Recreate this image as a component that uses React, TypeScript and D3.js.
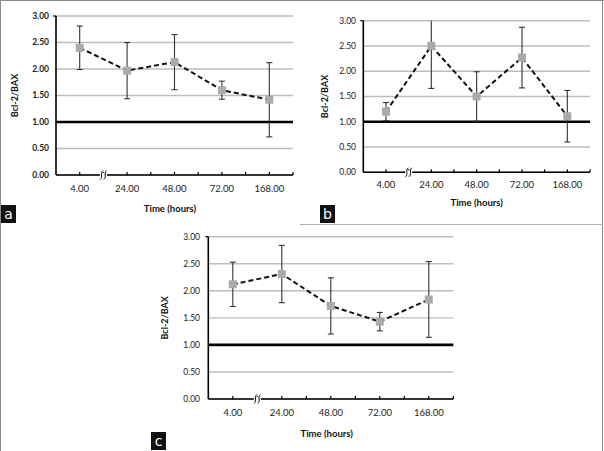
import React from "react";
import * as d3 from "d3";

const categories = ["4.00", "24.00", "48.00", "72.00", "168.00"];
const yTicks = [0, 0.5, 1, 1.5, 2, 2.5, 3];

const meanA = [2.4, 1.97, 2.13, 1.6, 1.42];
const errA = [0.41, 0.53, 0.52, 0.17, 0.7];
const meanB = [1.2, 2.5, 1.5, 2.27, 1.11];
const errB = [0.18, 0.84, 0.49, 0.6, 0.51];
const meanC = [2.12, 2.31, 1.72, 1.43, 1.84];
const errC = [0.41, 0.53, 0.52, 0.17, 0.7];

const FONT = "Lato, 'Open Sans', sans-serif";

type PanelProps = {
  label: string;
  means: number[];
  errs: number[];
  x0: number;
  x1: number;
  yTop: number;
  yBottom: number;
  tickLabelY: number;
  titleX: number;
  titleY: number;
  yLabelX: number;
  yTickRight: number;
  boldTicks?: boolean;
  box: { x: number; y: number };
};

function Panel(p: PanelProps) {
  const x = d3.scaleBand<string>().domain(categories).range([p.x0, p.x1]).padding(0);
  const y = d3.scaleLinear().domain([0, 3]).range([p.yBottom, p.yTop]);
  const bw = x.bandwidth();
  const cx = (c: string) => (x(c) as number) + bw / 2;
  const line = d3
    .line<number>()
    .x((_, i) => cx(categories[i]))
    .y((d) => y(d));
  const tickXs: number[] = [];
  categories.forEach((c) => {
    tickXs.push(cx(c));
    tickXs.push((x(c) as number) + bw);
  });
  const breakX = (x(categories[0]) as number) + bw;
  const yb = y(0);
  const wave = (ox: number) =>
    `M${ox - 1.5},${yb + 4.5} C${ox + 2},${yb + 2} ${ox - 2},${yb - 2} ${ox + 1.5},${yb - 4.5}`;
  return (
    <g>
      {yTicks.map((t) => (
        <line key={"g" + t} x1={p.x0} x2={p.x1} y1={y(t)} y2={y(t)} stroke="#bdbdbd" strokeWidth={1.4} />
      ))}
      <line x1={p.x0} x2={p.x1} y1={y(1)} y2={y(1)} stroke="#000" strokeWidth={2.6} />
      <line x1={p.x0} x2={p.x0} y1={y(3)} y2={y(0)} stroke="#000" strokeWidth={1.6} />
      <line x1={p.x0} x2={p.x1} y1={y(0)} y2={y(0)} stroke="#000" strokeWidth={1.6} />
      {tickXs.map((t, i) => (
        <line key={"t" + i} x1={t} x2={t} y1={yb} y2={yb - 3} stroke="#000" strokeWidth={1.2} />
      ))}
      <line x1={p.x0 - 3} x2={p.x0} y1={y(3)} y2={y(3)} stroke="#000" strokeWidth={1.2} />
      <rect x={breakX - 3.5} y={yb - 2} width={7} height={4} fill="#fff" />
      <path d={wave(breakX - 1.8)} fill="none" stroke="#000" strokeWidth={1} />
      <path d={wave(breakX + 1.8)} fill="none" stroke="#000" strokeWidth={1} />
      {yTicks.map((t) => (
        <text
          key={"yl" + t}
          x={p.yTickRight}
          y={y(t)}
          dy="0.35em"
          textAnchor="end"
          fontSize={8.5}
          fontWeight={p.boldTicks ? 700 : 400}
          fill="#222"
          fontFamily={FONT}
        >
          {t.toFixed(2)}
        </text>
      ))}
      {categories.map((c) => (
        <text
          key={"xl" + c}
          x={cx(c)}
          y={p.tickLabelY}
          dy="0.35em"
          textAnchor="middle"
          fontSize={9.5}
          fill="#222"
          fontFamily={FONT}
        >
          {c}
        </text>
      ))}
      <text
        x={p.titleX}
        y={p.titleY}
        dy="0.35em"
        textAnchor="middle"
        fontSize={9.5}
        fontWeight={700}
        fill="#111"
        fontFamily={FONT}
      >
        Time (hours)
      </text>
      <text
        transform={`translate(${p.yLabelX},${(p.yTop + p.yBottom) / 2}) rotate(-90)`}
        dy="0.35em"
        textAnchor="middle"
        fontSize={9}
        fontWeight={700}
        fill="#111"
        fontFamily={FONT}
      >
        Bcl-2/BAX
      </text>
      {p.means.map((m, i) => {
        const xc = cx(categories[i]);
        const hi = Math.min(3, m + p.errs[i]);
        const lo = Math.max(0, m - p.errs[i]);
        return (
          <g key={"e" + i} stroke="#333" strokeWidth={1.1}>
            <line x1={xc} x2={xc} y1={y(hi)} y2={y(lo)} />
            {m + p.errs[i] <= 3 && <line x1={xc - 3} x2={xc + 3} y1={y(hi)} y2={y(hi)} />}
            <line x1={xc - 3} x2={xc + 3} y1={y(lo)} y2={y(lo)} />
          </g>
        );
      })}
      <path d={line(p.means) || ""} fill="none" stroke="#111" strokeWidth={2} strokeDasharray="5,3" />
      {p.means.map((m, i) => (
        <rect key={"m" + i} x={cx(categories[i]) - 4} y={y(m) - 4} width={8} height={8} fill="#aaaaaa" />
      ))}
      <rect x={p.box.x} y={p.box.y} width={15} height={18} fill="#111" />
      <text
        x={p.box.x + 7.5}
        y={p.box.y + 9.5}
        dy="0.35em"
        textAnchor="middle"
        fontSize={14}
        fill="#fff"
        fontFamily="'DejaVu Sans', sans-serif"
      >
        {p.label}
      </text>
    </g>
  );
}

export default function App() {
  return (
    <svg
      width={604}
      height={451}
      style={{ position: "absolute", left: 0, top: 0, background: "#fff" }}
    >
      <rect x={0} y={0} width={604} height={451} fill="#fff" />
      <Panel
        label="a"
        means={meanA}
        errs={errA}
        x0={56}
        x1={293}
        yTop={16}
        yBottom={175}
        tickLabelY={189}
        titleX={170}
        titleY={209}
        yLabelX={15}
        yTickRight={49}
        boldTicks
        box={{ x: 1, y: 205 }}
      />
      <Panel
        label="b"
        means={meanB}
        errs={errB}
        x0={363.3}
        x1={590}
        yTop={20.7}
        yBottom={172.3}
        tickLabelY={185}
        titleX={476.7}
        titleY={203}
        yLabelX={325}
        yTickRight={356}
        box={{ x: 320, y: 205 }}
      />
      <Panel
        label="c"
        means={meanC}
        errs={errC}
        x0={208.3}
        x1={453.3}
        yTop={236.7}
        yBottom={399}
        tickLabelY={412.7}
        titleX={326.7}
        titleY={434}
        yLabelX={165}
        yTickRight={200}
        box={{ x: 151, y: 432 }}
      />
      <line x1={0.5} x2={0.5} y1={0} y2={451} stroke="#8a8a8a" strokeWidth={1} />
      <line x1={0} x2={604} y1={0.5} y2={0.5} stroke="#8a8a8a" strokeWidth={1} />
      <line x1={602.5} x2={602.5} y1={0} y2={451} stroke="#8a8a8a" strokeWidth={1} />
      <line x1={300} x2={603} y1={224.5} y2={224.5} stroke="#b0b0b0" strokeWidth={1} />
    </svg>
  );
}
